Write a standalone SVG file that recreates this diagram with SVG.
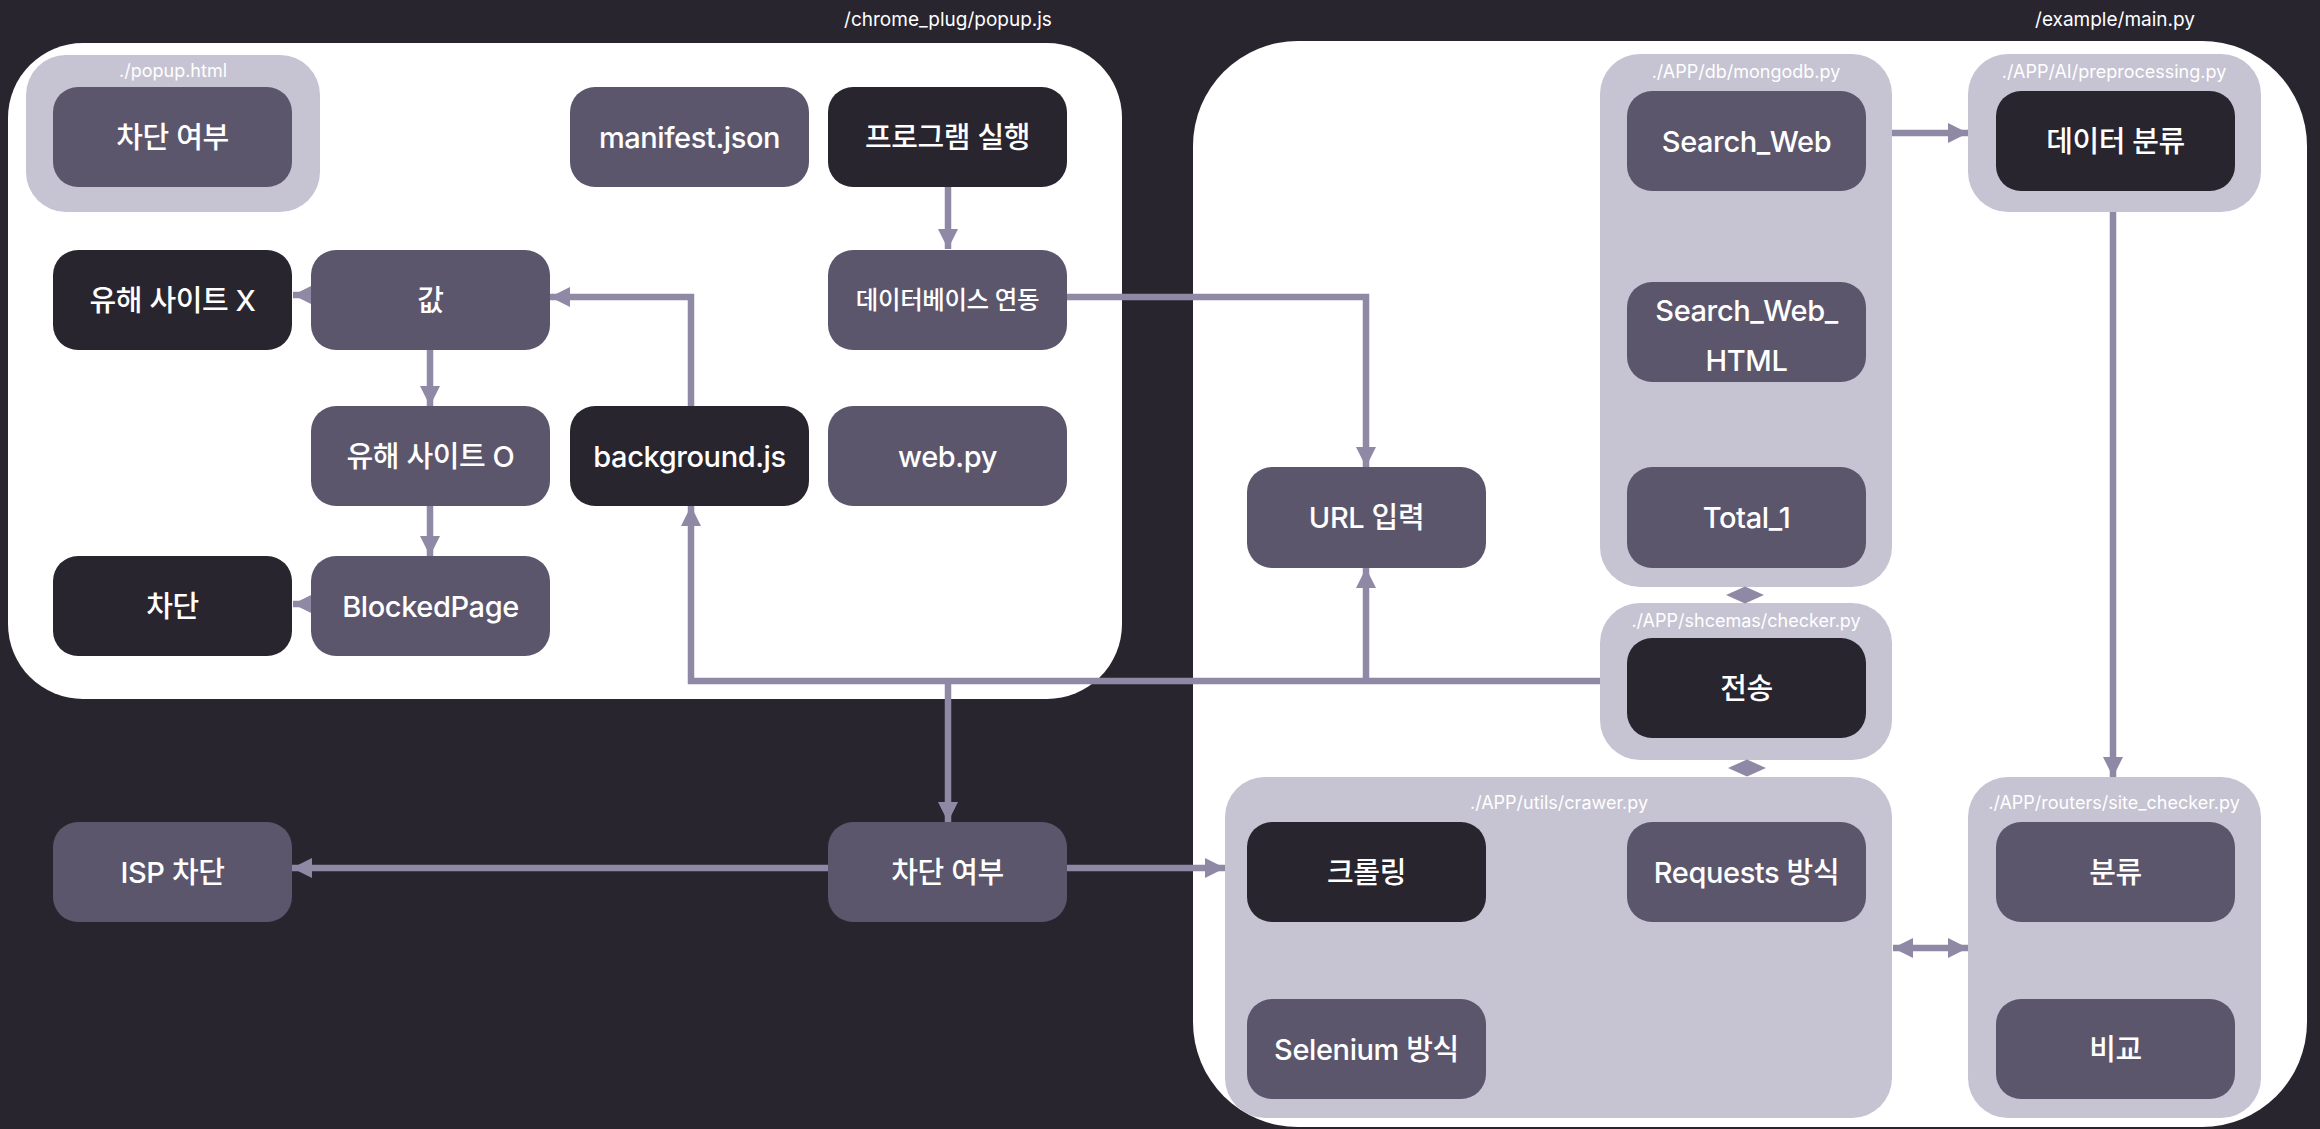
<svg xmlns="http://www.w3.org/2000/svg" width="2320" height="1129" viewBox="0 0 2320 1129">
<defs>
<style>
.bg{fill:#28252f}
.panel{fill:#ffffff}
.grp{fill:#c6c3d2}
.nm{fill:#5c566c}
.nd{fill:#28252f}
.t{font-family:Inter,"Noto Sans CJK KR",sans-serif;font-size:29px;font-weight:500;letter-spacing:-0.4px;fill:#ffffff;text-anchor:middle;dominant-baseline:central}
.gl{font-family:Inter,"Noto Sans CJK KR",sans-serif;font-size:18px;fill:#ffffff;text-anchor:middle;dominant-baseline:central}
.tl{font-family:Inter,"Noto Sans CJK KR",sans-serif;font-size:19px;fill:#ffffff;text-anchor:middle;dominant-baseline:central}
.c{fill:none;stroke:#8f89a5;stroke-width:6.5}
.dia{fill:#8f89a5}
</style>
<marker id="ah" viewBox="0 0 20 20" refX="20" refY="10" markerWidth="20" markerHeight="20" markerUnits="userSpaceOnUse" orient="auto-start-reverse">
<path d="M0,0 L20,10 L0,20 Z" fill="#8f89a5"/>
</marker>
</defs>
<rect class="bg" x="0" y="0" width="2320" height="1129"/>

<g id="panel-popup">
<rect class="panel" x="8" y="43" width="1114" height="656" rx="75"/>
<text class="tl" x="948" y="19">/chrome_plug/popup.js</text>
</g>
<g id="panel-main">
<rect class="panel" x="1193" y="41" width="1114" height="1086" rx="105"/>
<text class="tl" x="2115" y="19">/example/main.py</text>
</g>

<g id="group-popup-html">
<rect class="grp" x="26" y="55" width="294" height="157" rx="40"/>
<text class="gl" x="173" y="70">./popup.html</text>
</g>
<g id="group-mongodb">
<rect class="grp" x="1600" y="54" width="292" height="533" rx="40"/>
<text class="gl" x="1746" y="71">./APP/db/mongodb.py</text>
</g>
<g id="group-preprocessing">
<rect class="grp" x="1968" y="54" width="293" height="158" rx="40"/>
<text class="gl" x="2114" y="71">./APP/AI/preprocessing.py</text>
</g>
<g id="group-checker">
<rect class="grp" x="1600" y="603" width="292" height="157" rx="40"/>
<text class="gl" x="1746" y="620">./APP/shcemas/checker.py</text>
</g>
<g id="group-crawer">
<rect class="grp" x="1225" y="777" width="667" height="341" rx="40"/>
<text class="gl" x="1559" y="802">./APP/utils/crawer.py</text>
</g>
<g id="group-site-checker">
<rect class="grp" x="1968" y="777" width="293" height="341" rx="40"/>
<text class="gl" x="2114" y="802">./APP/routers/site_checker.py</text>
</g>

<g id="connectors">
<path class="c" d="M948,187 V249" marker-end="url(#ah)"/>
<path class="c" d="M311,295 H293" marker-end="url(#ah)"/>
<path class="c" d="M430,350 V406" marker-end="url(#ah)"/>
<path class="c" d="M430,506 V556" marker-end="url(#ah)"/>
<path class="c" d="M311,604 H293" marker-end="url(#ah)"/>
<path class="c" d="M691,406 V297 H550" marker-end="url(#ah)"/>
<path class="c" d="M1067,297 H1366 V467" marker-end="url(#ah)"/>
<path class="c" d="M1600,681 H691 V506" marker-end="url(#ah)"/>
<path class="c" d="M1366,681 V568" marker-end="url(#ah)"/>
<path class="c" d="M948,681 V822" marker-end="url(#ah)"/>
<path class="c" d="M828,868 H292" marker-end="url(#ah)"/>
<path class="c" d="M1067,868 H1225" marker-end="url(#ah)"/>
<path class="c" d="M1892,133 H1968" marker-end="url(#ah)"/>
<path class="c" d="M2113,212 V777" marker-end="url(#ah)"/>
<path class="c" d="M1893,948 H1968" marker-start="url(#ah)" marker-end="url(#ah)"/>
<polygon class="dia" points="1726,595 1745,586.5 1764,595 1745,603.5"/>
<polygon class="dia" points="1728,768 1747,759.5 1766,768 1747,776.5"/>
</g>

<g id="node-popup-block"><rect class="nm" x="53" y="87" width="239" height="100" rx="25"/><text class="t" x="172.5" y="137">차단 여부</text></g>
<g id="node-manifest"><rect class="nm" x="570" y="87" width="239" height="100" rx="25"/><text class="t" x="689.5" y="137">manifest.json</text></g>
<g id="node-run"><rect class="nd" x="828" y="87" width="239" height="100" rx="25"/><text class="t" x="947.5" y="137">프로그램 실행</text></g>
<g id="node-harm-x"><rect class="nd" x="53" y="250" width="239" height="100" rx="25"/><text class="t" x="172.5" y="300">유해 사이트 X</text></g>
<g id="node-value"><rect class="nm" x="311" y="250" width="239" height="100" rx="25"/><text class="t" x="430.5" y="300">값</text></g>
<g id="node-db"><rect class="nm" x="828" y="250" width="239" height="100" rx="25"/><text class="t" x="947.5" y="300" style="font-size:24.5px">데이터베이스 연동</text></g>
<g id="node-harm-o"><rect class="nm" x="311" y="406" width="239" height="100" rx="25"/><text class="t" x="430.5" y="456">유해 사이트 O</text></g>
<g id="node-background"><rect class="nd" x="570" y="406" width="239" height="100" rx="25"/><text class="t" x="689.5" y="456">background.js</text></g>
<g id="node-webpy"><rect class="nm" x="828" y="406" width="239" height="100" rx="25"/><text class="t" x="947.5" y="456">web.py</text></g>
<g id="node-block"><rect class="nd" x="53" y="556" width="239" height="100" rx="25"/><text class="t" x="172.5" y="606">차단</text></g>
<g id="node-blockedpage"><rect class="nm" x="311" y="556" width="239" height="100" rx="25"/><text class="t" x="430.5" y="606">BlockedPage</text></g>
<g id="node-isp"><rect class="nm" x="53" y="822" width="239" height="100" rx="25"/><text class="t" x="172.5" y="872">ISP 차단</text></g>
<g id="node-block-check"><rect class="nm" x="828" y="822" width="239" height="100" rx="25"/><text class="t" x="947.5" y="872">차단 여부</text></g>
<g id="node-url"><rect class="nm" x="1247" y="467" width="239" height="101" rx="25"/><text class="t" x="1366.5" y="517">URL 입력</text></g>
<g id="node-search-web"><rect class="nm" x="1627" y="91" width="239" height="100" rx="25"/><text class="t" x="1746.5" y="141">Search_Web</text></g>
<g id="node-search-web-html"><rect class="nm" x="1627" y="282" width="239" height="100" rx="25"/><text class="t" x="1746.5" y="310">Search_Web_</text><text class="t" x="1746.5" y="360">HTML</text></g>
<g id="node-total"><rect class="nm" x="1627" y="467" width="239" height="101" rx="25"/><text class="t" x="1746.5" y="517">Total_1</text></g>
<g id="node-classify-data"><rect class="nd" x="1996" y="91" width="239" height="100" rx="25"/><text class="t" x="2115.5" y="141">데이터 분류</text></g>
<g id="node-send"><rect class="nd" x="1627" y="638" width="239" height="100" rx="25"/><text class="t" x="1746.5" y="688">전송</text></g>
<g id="node-crawl"><rect class="nd" x="1247" y="822" width="239" height="100" rx="25"/><text class="t" x="1366.5" y="872">크롤링</text></g>
<g id="node-requests"><rect class="nm" x="1627" y="822" width="239" height="100" rx="25"/><text class="t" x="1746.5" y="872">Requests 방식</text></g>
<g id="node-selenium"><rect class="nm" x="1247" y="999" width="239" height="100" rx="25"/><text class="t" x="1366.5" y="1049">Selenium 방식</text></g>
<g id="node-classify"><rect class="nm" x="1996" y="822" width="239" height="100" rx="25"/><text class="t" x="2115.5" y="872">분류</text></g>
<g id="node-compare"><rect class="nm" x="1996" y="999" width="239" height="100" rx="25"/><text class="t" x="2115.5" y="1049">비교</text></g>
</svg>
